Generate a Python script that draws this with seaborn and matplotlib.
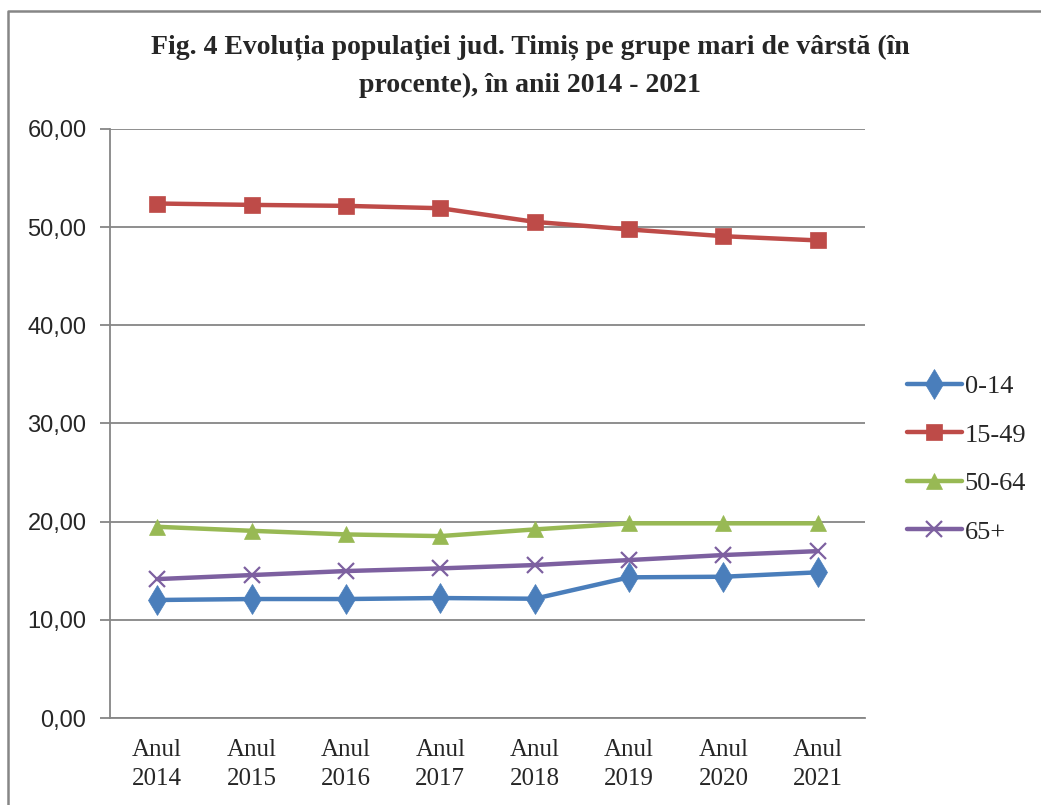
import matplotlib
matplotlib.use("Agg")
import matplotlib.pyplot as plt
import matplotlib.lines as mlines
import numpy as np
import pandas as pd
import seaborn as sns

# Age-group shares (%) of Timiș county population, 2014-2021
years = ["2014", "2015", "2016", "2017", "2018", "2019", "2020", "2021"]
groups = ["0-14", "15-49", "50-64", "65+"]
v_0_14 = [12.02, 12.12, 12.12, 12.22, 12.15, 14.33, 14.39, 14.84]
v_15_49 = [52.41, 52.27, 52.17, 51.93, 50.54, 49.77, 49.08, 48.65]
v_50_64 = [19.48, 19.07, 18.70, 18.53, 19.21, 19.83, 19.83, 19.83]
v_65 = [14.15, 14.56, 14.97, 15.24, 15.58, 16.09, 16.60, 17.00]
yticks = [0, 10, 20, 30, 40, 50, 60]

colors = ["#4A7EBB", "#BE4B48", "#98B954", "#7D60A0"]
markers = ["d", "s", "^", "x"]
msizes = [15, 12, 12, 11]

df = pd.DataFrame({
    "an": years * 4,
    "grupa": np.repeat(groups, len(years)),
    "val": v_0_14 + v_15_49 + v_50_64 + v_65,
})

sns.set_theme(style="white")
plt.rcParams["font.family"] = ["Liberation Serif", "DejaVu Serif"]

fig = plt.figure(figsize=(10.41, 8.05), dpi=100)
ax = fig.add_axes([110 / 1041, 1 - 718 / 805, 755 / 1041, (718 - 129) / 805])

grid_c = "#868686"
for i, g in enumerate(groups):
    sub = df[df["grupa"] == g]
    sns.lineplot(data=sub, x="an", y="val", ax=ax, color=colors[i], lw=3.2,
                 marker=markers[i], markersize=msizes[i],
                 markeredgecolor=colors[i], markeredgewidth=1.6 if markers[i] == "x" else 0.5,
                 sort=False, legend=False, zorder=3 + (1 if i == 1 else 0))

ax.set_xlim(-0.5, len(years) - 0.5)
ax.set_ylim(0, 60)
ax.set_yticks(yticks)
ax.set_yticklabels([f"{t:.2f}".replace(".", ",") for t in yticks],
                   fontfamily=["Liberation Sans"], fontsize=17)
ax.set_xticks(range(len(years)))
ax.set_xticklabels([f"Anul\n{y}" for y in years], fontsize=18, linespacing=1.45)
ax.set_xticks(np.arange(-0.5, len(years)), minor=True)
ax.tick_params(axis="x", which="major", length=0, pad=15)
ax.tick_params(axis="x", which="minor", length=6, width=1.3, color=grid_c, direction="out")
ax.tick_params(axis="y", which="major", length=7, width=1.3, color=grid_c, direction="out", pad=10, left=True)
ax.set_xlabel("")
ax.set_ylabel("")
ax.yaxis.grid(True, color=grid_c, lw=1.3)
ax.set_axisbelow(True)
for s in ["top", "right"]:
    ax.spines[s].set_visible(False)
for s in ["left", "bottom"]:
    ax.spines[s].set_color(grid_c)
    ax.spines[s].set_linewidth(1.3)

handles = [mlines.Line2D([], [], color=colors[i], lw=3.2, marker=markers[i],
                         markersize=msizes[i], markeredgecolor=colors[i],
                         markeredgewidth=1.6 if markers[i] == "x" else 0.5)
           for i in range(len(groups))]
fig.legend(handles, groups, loc="upper left", bbox_to_anchor=(896 / 1041, 1 - 364 / 805),
           frameon=False, fontsize=19, handlelength=2.1, handletextpad=0.1,
           labelspacing=0.95, borderaxespad=0)

fig.text(530 / 1041, 1 - 66 / 805,
         "Fig. 4 Evoluția populaţiei jud. Timiș pe grupe mari de vârstă (în\nprocente), în anii 2014 - 2021",
         ha="center", va="center", fontsize=20, fontweight="bold", linespacing=1.65)

# chart frame
fig.add_artist(plt.Line2D([8 / 1041, 8 / 1041, 1.0], [0, 1 - 11 / 805, 1 - 11 / 805],
                          transform=fig.transFigure, color=grid_c, lw=1.8))

fig.savefig("out.png", dpi=100)
